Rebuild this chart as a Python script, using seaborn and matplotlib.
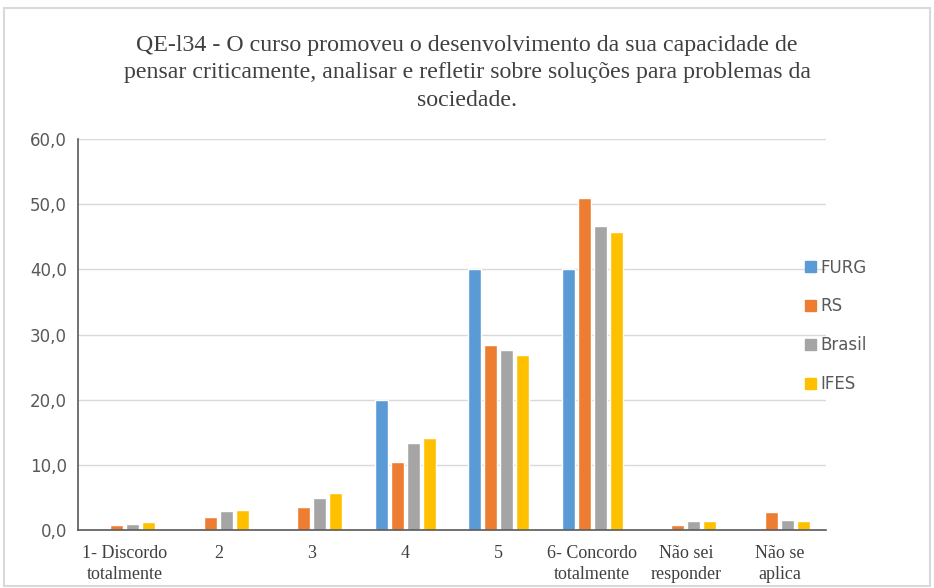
import pandas as pd
import matplotlib.pyplot as plt
import matplotlib.patches as mpatches
import seaborn as sns
from matplotlib.ticker import FuncFormatter

# Data
categories = ['1- Discordo\ntotalmente', '2', '3', '4', '5',
              '6- Concordo\ntotalmente', 'Não sei\nresponder', 'Não se\naplica']
furg = [0.0, 0.0, 0.0, 20.0, 40.0, 40.0, 0.0, 0.0]
rs = [0.7, 2.0, 3.5, 10.5, 28.4, 51.0, 0.7, 2.7]
brasil = [1.0, 2.9, 4.9, 13.4, 27.7, 46.7, 1.4, 1.6]
ifes = [1.2, 3.1, 5.7, 14.1, 26.9, 45.7, 1.4, 1.4]
series = ['FURG', 'RS', 'Brasil', 'IFES']
colors = ['#5b9bd5', '#ed7d31', '#a5a5a5', '#ffc000']

df = pd.DataFrame({'categoria': categories, 'FURG': furg, 'RS': rs,
                   'Brasil': brasil, 'IFES': ifes})
long = df.melt(id_vars='categoria', var_name='grupo', value_name='valor')

sns.set_style('white')
fig = plt.figure(figsize=(9.34, 5.88), dpi=100)
ax = fig.add_axes([0.0835, 0.0986, 0.801, 0.665])

sns.barplot(data=long, x='categoria', y='valor', hue='grupo',
            hue_order=series, palette=colors, width=0.685, gap=0.2,
            saturation=1, ax=ax, legend=False)

ax.set_xlim(-0.5, len(categories) - 0.5)
ax.set_ylim(0, 60)
ax.set_yticks(range(0, 61, 10))
ax.yaxis.set_major_formatter(FuncFormatter(lambda v, p: f'{v:.1f}'.replace('.', ',')))
ax.grid(axis='y', color='#d9d9d9', linewidth=1)
ax.set_axisbelow(True)
ax.set_xlabel('')
ax.set_ylabel('')
for s in ['top', 'right']:
    ax.spines[s].set_visible(False)
ax.spines['left'].set_color('#595959')
ax.spines['bottom'].set_color('#595959')
ax.spines['left'].set_linewidth(1.2)
ax.spines['bottom'].set_linewidth(1.2)
ax.tick_params(axis='y', labelsize=12, colors='#595959', length=0, pad=8)
ax.tick_params(axis='x', length=0, pad=11)
for lab in ax.get_yticklabels():
    lab.set_fontfamily('DejaVu Sans')
for lab in ax.get_xticklabels():
    lab.set_fontfamily('Liberation Serif')
    lab.set_fontsize(13)
    lab.set_color('#404040')
    lab.set_linespacing(1.3)

fig.text(0.5, 0.941,
         'QE-l34 - O curso promoveu o desenvolvimento da sua capacidade de\n'
         'pensar criticamente, analisar e refletir sobre soluções para problemas da\n'
         'sociedade.',
         ha='center', va='top', fontsize=17.2, family='Liberation Serif',
         color='#404040', linespacing=1.42)

handles = [mpatches.Patch(color=c, label=s) for s, c in zip(series, colors)]
fig.legend(handles=handles, loc='center left', bbox_to_anchor=(0.8455, 0.446),
           frameon=False, fontsize=12, handlelength=0.65, handleheight=0.65,
           handletextpad=0.3, labelspacing=1.25, labelcolor='#595959')

fig.patches.append(mpatches.Rectangle((0.004, 0.004), 0.992, 0.982,
                                      transform=fig.transFigure, fill=False,
                                      edgecolor='#d9d9d9', linewidth=1.5))

fig.savefig('out.png', dpi=100)
